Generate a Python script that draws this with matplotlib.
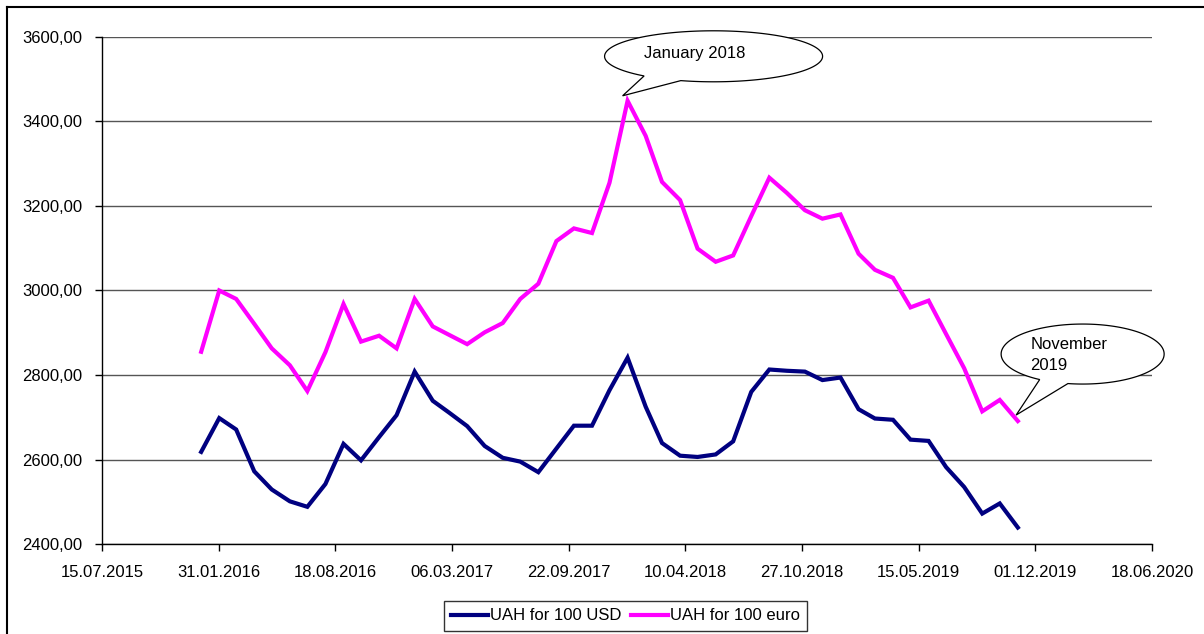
import numpy as np
import pandas as pd
import matplotlib
matplotlib.use('Agg')
import matplotlib.pyplot as plt
import matplotlib.dates as mdates
from matplotlib.patches import Polygon
from matplotlib.lines import Line2D

plt.rcParams['font.family'] = ['Liberation Sans', 'DejaVu Sans']

# monthly values, Jan 2016 .. Nov 2019
dates = pd.date_range('2016-01-01', '2019-11-01', freq='MS')
usd = [2618, 2698, 2671, 2572, 2529, 2501, 2488, 2542, 2637, 2598, 2653, 2705,
       2808, 2739, 2711, 2679, 2632, 2604, 2595, 2570, 2626, 2680, 2680, 2764,
       2841, 2725, 2639, 2609, 2606, 2612, 2643, 2760, 2813, 2810, 2808, 2788,
       2794, 2719, 2697, 2694, 2647, 2644, 2582, 2535, 2472, 2496, 2439]
euro = [2855, 3000, 2980, 2921, 2863, 2823, 2762, 2854, 2968, 2879, 2893, 2863,
        2980, 2915, 2895, 2873, 2901, 2923, 2980, 3016, 3117, 3147, 3136, 3255,
        3449, 3366, 3257, 3214, 3099, 3068, 3083, 3176, 3267, 3231, 3190, 3170,
        3180, 3087, 3049, 3030, 2960, 2976, 2897, 2816, 2714, 2741, 2691]
series_names = ['UAH for 100 USD', 'UAH for 100 euro']
x_start, x_end = pd.Timestamp('2015-07-15'), pd.Timestamp('2020-06-18')
y_ticks = [2400, 2600, 2800, 3000, 3200, 3400, 3600]

fig = plt.figure(figsize=(12.04, 6.34), dpi=100)
ax = fig.add_axes([102 / 1204, 90 / 634, 1050 / 1204, 507 / 634])

ax.plot(dates, usd, color='#000080', lw=3, solid_joinstyle='miter', label=series_names[0])
ax.plot(dates, euro, color='#FF00FF', lw=3, solid_joinstyle='miter', label=series_names[1])

ax.set_xlim(x_start, x_end)
ax.set_ylim(2400, 3600)
xt = pd.date_range(x_start, x_end, freq='200D')
ax.set_xticks(xt)
ax.set_xticklabels([d.strftime('%d.%m.%Y') for d in xt])
ax.set_yticks(y_ticks)
ax.set_yticklabels([f'{v:.2f}'.replace('.', ',') for v in y_ticks])
ax.tick_params(axis='both', labelsize=12, direction='out', length=5, width=1, color='black')
ax.tick_params(axis='x', pad=10)
ax.tick_params(axis='y', pad=9)
ax.grid(axis='y', color='#555555', lw=1)
ax.set_axisbelow(True)
for s in ['top', 'right']:
    ax.spines[s].set_visible(False)
for s in ['left', 'bottom']:
    ax.spines[s].set_color('black')
    ax.spines[s].set_linewidth(1)


def callout(x, y, tip, center, rx, ry, a0, a1, text, toff, ha='center'):
    px, py = ax.transData.transform((mdates.date2num(x), y))
    tx, ty = px + tip[0], py + tip[1]
    cx, cy = tx + center[0], ty + center[1]
    th = np.radians(np.linspace(a0, a1, 300))
    pts = np.column_stack([cx + rx * np.cos(th), cy + ry * np.sin(th)])
    pts = np.vstack([pts, [tx, ty]])
    pts = fig.transFigure.inverted().transform(pts)
    fig.add_artist(Polygon(pts, closed=True, facecolor='white', edgecolor='black',
                           lw=0.9, transform=fig.transFigure, zorder=5))
    lx, ly = fig.transFigure.inverted().transform((cx + toff[0], cy + toff[1]))
    fig.text(lx, ly, text, ha=ha, va='center', fontsize=12, linespacing=1.55, zorder=6)


callout(dates[24], euro[24], (-5, 5), (91, 39.5), 109, 25.5, 252.5, 590.4,
        'January 2018', (-19, 2.5))
callout(dates[46], euro[46], (-1.7, 6), (66.5, 61), 81.5, 30, 259.6, 598.2,
        'November\n2019', (-52.5, -1), ha='left')

leg = fig.legend(loc='center', bbox_to_anchor=(625.5 / 1204, 18 / 634), ncol=2,
                 fontsize=12, frameon=True, fancybox=False, edgecolor='black',
                 handlelength=2.2, handletextpad=0.1, columnspacing=0.6,
                 borderpad=0.45, borderaxespad=0)
leg.get_frame().set_linewidth(1)

# outer frame (top and left only visible)
fig.add_artist(Line2D([7 / 1204, 1.0], [1 - 7 / 634, 1 - 7 / 634], color='black', lw=1.5,
                      transform=fig.transFigure))
fig.add_artist(Line2D([7 / 1204, 7 / 1204], [0, 1 - 7 / 634], color='black', lw=1.5,
                      transform=fig.transFigure))

fig.savefig('out.png', dpi=100)
